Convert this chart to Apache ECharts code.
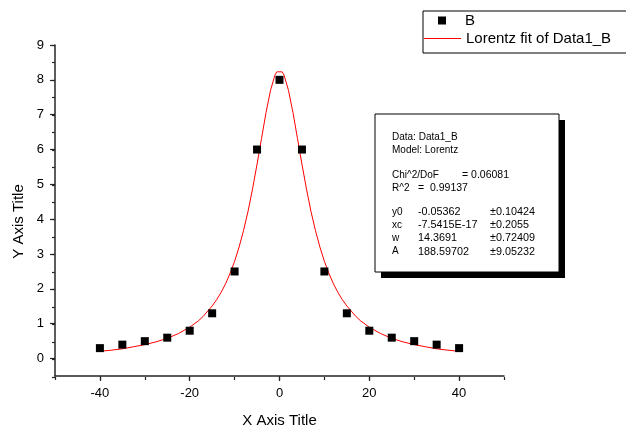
<!DOCTYPE html>
<html>
<head>
<meta charset="utf-8">
<script src="https://cdn.jsdelivr.net/npm/echarts@6/dist/echarts.min.js"></script>
<style>
  html, body { margin: 0; padding: 0; background: #fff; }
  #chart { width: 626px; height: 433px; }
</style>
</head>
<body>
<div id="chart"></div>
<script>
var chartDom = document.getElementById('chart');
var myChart = echarts.init(chartDom);
var option;

// measured points (series B)
var xData = [-40, -35, -30, -25, -20, -15, -10, -5, 0, 5, 10, 15, 20, 25, 30, 35, 40];
var yData = [0.3, 0.4, 0.5, 0.6, 0.8, 1.3, 2.5, 6, 8, 6, 2.5, 1.3, 0.8, 0.6, 0.5, 0.4, 0.3];

// fit curve
var fitX = [-40, -37.5, -35, -32.5, -30, -27.5, -25, -22.5, -20, -18, -17, -15, -14, -13, -12, -11, -10, -9, -8, -7, -6, -5, -4, -3, -2, -1, -0.6,
            0.6, 1, 2, 3, 4, 5, 6, 7, 8, 9, 10, 11, 12, 13, 14, 15, 17, 18, 20, 22.5, 25, 27.5, 30, 32.5, 35, 37.5, 40];
var fitY = [0.21, 0.24, 0.28, 0.34, 0.40, 0.48, 0.58, 0.72, 0.90, 1.09, 1.21, 1.51, 1.69, 1.90, 2.15, 2.45, 2.79, 3.20, 3.68, 4.23, 4.87, 5.58, 6.32, 7.06, 7.70, 8.14, 8.23,
            8.23, 8.14, 7.70, 7.06, 6.32, 5.58, 4.87, 4.23, 3.68, 3.20, 2.79, 2.45, 2.15, 1.90, 1.69, 1.51, 1.21, 1.09, 0.90, 0.72, 0.58, 0.48, 0.40, 0.34, 0.28, 0.24, 0.21];

var xLabels = [-40, -20, 0, 20, 40];
var yLabels = [0, 1, 2, 3, 4, 5, 6, 7, 8, 9];

// fit report
var reportHead = ['Data: Data1_B', 'Model: Lorentz'];
var paramNames = ['y0', 'xc', 'w', 'A'];
var paramValues = ['-0.05362', '-7.5415E-17', '14.3691', '188.59702'];
var paramErrors = ['\u00b10.10424', '\u00b10.2055', '\u00b10.72409', '\u00b19.05232'];

var font = 'Liberation Sans, Arial, sans-serif';
var axisColor = '#262626';

var scatterData = xData.map(function (x, i) { return [x, yData[i]]; });
var fitData = fitX.map(function (x, i) { return [x, fitY[i]]; });

var grid = { left: 55, right: 122, top: 45, bottom: 56 };

// report box + legend frame
var rep = [];
rep.push({ type: 'rect', shape: { x: 423, y: 11, width: 220, height: 42 }, style: { fill: '#fff', stroke: '#000', lineWidth: 1 } });
var bx = 375, by = 114, bw = 184, bh = 158;
rep.push({ type: 'rect', shape: { x: bx + 6, y: by + 6, width: bw, height: bh }, style: { fill: '#000' } });
rep.push({ type: 'rect', shape: { x: bx, y: by, width: bw, height: bh }, style: { fill: '#fff', stroke: '#000', lineWidth: 1 } });
function txt(x, y, s, size) {
  rep.push({ type: 'text', x: x, y: y, style: { text: s, fontFamily: font, fontSize: size, fill: '#000', textVerticalAlign: 'middle' } });
}
txt(392, 137, reportHead[0], 10);
txt(392, 150, reportHead[1], 10);
txt(392, 175, 'Chi^2/DoF', 10);
txt(462, 175, '= 0.06081', 10.5);
txt(392, 188, 'R^2', 10);
txt(418, 188, '=  0.99137', 10.5);
paramNames.forEach(function (n, i) {
  var y = 212 + i * 13.2;
  txt(392, y, n, 10);
  txt(418, y, paramValues[i], 10.8);
  txt(490, y, paramErrors[i], 10.8);
});

option = {
  animation: false,
  backgroundColor: '#fff',
  textStyle: { fontFamily: font },
  grid: [grid, grid],
  legend: [
    {
      left: 438, top: 13,
      padding: 0,
      icon: 'rect',
      itemWidth: 8, itemHeight: 8,
      textStyle: { fontFamily: font, fontSize: 15, color: '#000', padding: [0, 0, 0, 14] },
      data: ['B']
    },
    {
      left: 424, top: 31,
      padding: 0,
      icon: 'rect',
      itemWidth: 37, itemHeight: 1,
      textStyle: { fontFamily: font, fontSize: 15, color: '#000' },
      data: ['Lorentz fit of Data1_B']
    }
  ],
  xAxis: [
    {
      type: 'value', gridIndex: 0, min: -50, max: 50, interval: 10,
      splitLine: { show: false },
      axisLine: { onZero: false, lineStyle: { color: axisColor, width: 1.5 } },
      axisTick: { customValues: xLabels, length: 5, lineStyle: { color: axisColor, width: 1.2 } },
      axisLabel: { customValues: xLabels, color: '#000', fontSize: 13, margin: 11 },
      name: 'X Axis Title', nameLocation: 'middle', nameGap: 37,
      nameTextStyle: { fontSize: 15, color: '#000' }
    },
    {
      type: 'value', gridIndex: 1, min: -50, max: 50, interval: 10,
      splitLine: { show: false },
      axisLine: { show: false, onZero: false },
      axisTick: { length: 3, lineStyle: { color: axisColor, width: 1.2 } },
      axisLabel: { show: false }
    }
  ],
  yAxis: [
    {
      type: 'value', gridIndex: 0, min: -0.5, max: 9, interval: 0.5,
      splitLine: { show: false },
      axisLine: { onZero: false, lineStyle: { color: axisColor, width: 1.5 } },
      axisTick: { customValues: yLabels, length: 5, lineStyle: { color: axisColor, width: 1.2 } },
      axisLabel: { customValues: yLabels, color: '#000', fontSize: 13, margin: 11 },
      name: 'Y Axis Title', nameLocation: 'middle', nameGap: 26, nameRotate: 90,
      nameTextStyle: { fontSize: 15, color: '#000', padding: [0, 22, 0, 0] }
    },
    {
      type: 'value', gridIndex: 1, min: -0.5, max: 9, interval: 0.5,
      splitLine: { show: false },
      axisLine: { show: false, onZero: false },
      axisTick: { length: 3, lineStyle: { color: axisColor, width: 1.2 } },
      axisLabel: { show: false }
    }
  ],
  series: [
    {
      name: 'Lorentz fit of Data1_B',
      type: 'line',
      xAxisIndex: 0, yAxisIndex: 0,
      data: fitData,
      symbol: 'none',
      showSymbol: false,
      smooth: false,
      color: '#ff0000',
      lineStyle: { color: '#ff0000', width: 1 },
      z: 3
    },
    {
      name: 'B',
      type: 'scatter',
      xAxisIndex: 0, yAxisIndex: 0,
      data: scatterData,
      symbol: 'rect',
      symbolSize: 8,
      color: '#000',
      itemStyle: { color: '#000', opacity: 1 },
      z: 4
    }
  ],
  graphic: [{ type: 'group', silent: true, z: 0, children: rep }]
};
option && myChart.setOption(option);
</script>
</body>
</html>
